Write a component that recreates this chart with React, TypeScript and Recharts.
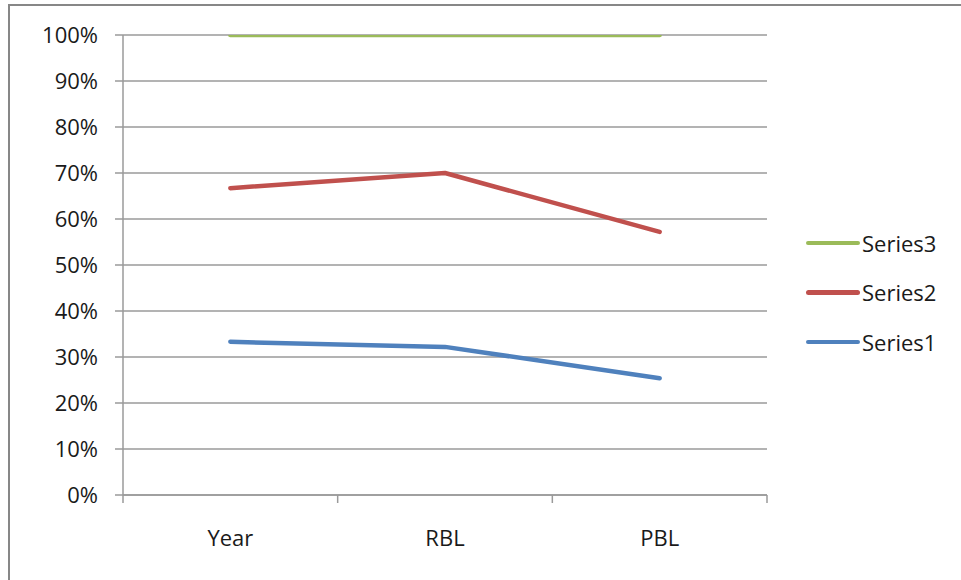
import React from 'react';
import { LineChart, Line, XAxis, YAxis, CartesianGrid } from 'recharts';

const categories = ['Year', 'RBL', 'PBL'];
const series1 = [0.333, 0.322, 0.254];
const series2 = [0.667, 0.7, 0.572];
const series3 = [1, 1, 1];
const yTicks = [0, 0.1, 0.2, 0.3, 0.4, 0.5, 0.6, 0.7, 0.8, 0.9, 1];

const SERIES = [
  { key: 'Series3', values: series3, color: '#9BBB59' },
  { key: 'Series2', values: series2, color: '#C0504D' },
  { key: 'Series1', values: series1, color: '#4F81BD' },
];

const data = categories.map((name, i) => {
  const row: Record<string, string | number> = { name };
  SERIES.forEach(s => {
    row[s.key] = s.values[i];
  });
  return row;
});

const FONT = '"Open Sans", "Liberation Sans", sans-serif';
const AXIS_COLOR = '#9a9a9a';
const CHART_W = 961;
const CHART_H = 580;
const PLOT_LEFT = 123;
const PLOT_RIGHT = 767;
const BAND = (PLOT_RIGHT - PLOT_LEFT) / categories.length;

// category label plus Excel-style tick marks on the boundaries between categories
const XTick = (props: any) => {
  const { x, y, payload, index } = props;
  const right = x + BAND / 2;
  const left = x - BAND / 2;
  const axisY = y - 8;
  return (
    <g>
      {index === 0 && <line x1={left} y1={axisY} x2={left} y2={axisY + 8} stroke={AXIS_COLOR} strokeWidth={1.5} />}
      <line x1={right} y1={axisY} x2={right} y2={axisY + 8} stroke={AXIS_COLOR} strokeWidth={1.5} />
      <text x={x} y={axisY + 51} textAnchor="middle" fontSize={22} fontFamily={FONT} fill="#1a1a1a">
        {payload.value}
      </text>
    </g>
  );
};

const App: React.FC = () => {
  return (
    <div style={{ position: 'absolute', left: 0, top: 0, width: CHART_W, height: CHART_H, background: '#fff' }}>
      <div
        style={{
          position: 'absolute',
          left: 8,
          top: 4,
          right: 0,
          bottom: 0,
          borderLeft: '2px solid #878787',
          borderTop: '2px solid #878787',
        }}
      />
      <div style={{ position: 'absolute', left: 0, top: 0 }}>
        <LineChart
          width={CHART_W}
          height={CHART_H}
          data={data}
          margin={{ top: 35, right: CHART_W - PLOT_RIGHT, bottom: 0, left: 0 }}
        >
          <CartesianGrid horizontal vertical={false} stroke={AXIS_COLOR} strokeWidth={1.5} />
          <XAxis
            dataKey="name"
            scale="band"
            height={85}
            tickLine={false}
            tickSize={8}
            tickMargin={0}
            axisLine={{ stroke: AXIS_COLOR, strokeWidth: 1.5 }}
            tick={<XTick />}
            interval={0}
          />
          <YAxis
            width={PLOT_LEFT}
            domain={[0, 1]}
            allowDataOverflow
            ticks={yTicks}
            interval={0}
            tickFormatter={(v: number) => `${Math.round(v * 100)}%`}
            tickSize={8}
            tickMargin={17}
            tickLine={{ stroke: AXIS_COLOR, strokeWidth: 1.5 }}
            axisLine={{ stroke: AXIS_COLOR, strokeWidth: 1.5 }}
            tick={{ fontSize: 22, fontFamily: FONT, fill: '#1a1a1a' }}
          />
          {SERIES.map(s => (
            <Line
              key={s.key}
              dataKey={s.key}
              stroke={s.color}
              strokeWidth={4.5}
              strokeLinecap="round"
              strokeLinejoin="round"
              dot={false}
              activeDot={false}
              isAnimationActive={false}
            />
          ))}
        </LineChart>
      </div>
      <div style={{ position: 'absolute', left: 806, top: 218, fontFamily: FONT, fontSize: 22, color: '#1a1a1a' }}>
        {SERIES.map(s => (
          <div key={s.key} style={{ display: 'flex', alignItems: 'center', height: 49.5 }}>
            <span
              style={{ display: 'inline-block', width: 54, height: 4.5, borderRadius: 3, background: s.color, marginRight: 2 }}
            />
            <span>{s.key}</span>
          </div>
        ))}
      </div>
    </div>
  );
};

export default App;
